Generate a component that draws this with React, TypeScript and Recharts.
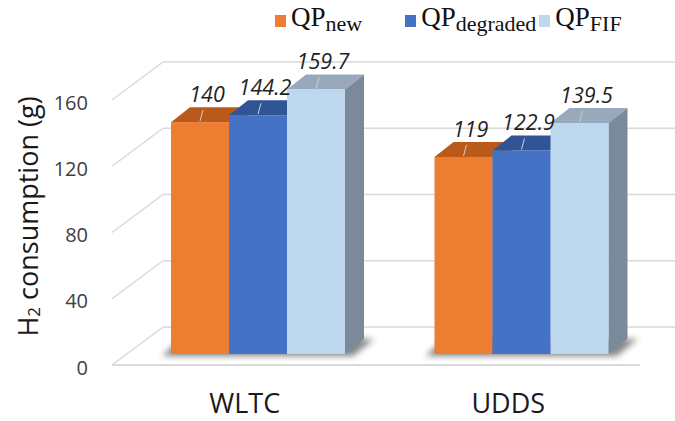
import React from 'react';
import { BarChart, Bar, XAxis, YAxis, ReferenceLine, Legend, LabelList } from 'recharts';

const categories = ['WLTC', 'UDDS'];
const qpNew = [140, 119];
const qpDegraded = [144.2, 122.9];
const qpFif = [159.7, 139.5];
const yTicks = [0, 40, 80, 120, 160];

const seriesKeys = ['qpNew', 'qpDegraded', 'qpFif'];
const seriesSubs = ['new', 'degraded', 'FIF'];
const frontColors = ['#ED7D31', '#4472C4', '#BDD7EE'];
const topColors = ['#B9591A', '#2F5597', '#97A9BB'];
const sideColors = ['#A04E17', '#2A4C86', '#7A8A9A'];
const legendGaps = [43, 3, 0];

const data = categories.map((name, i) => ({
  name,
  qpNew: qpNew[i],
  qpDegraded: qpDegraded[i],
  qpFif: qpFif[i],
}));

// depth of the boxes, and of the back wall / front floor edge
const DX = 19;
const DY = 15;
const WALL_DX = 36;
const WALL_DY = 27;
const FRONT_DX = 15;
const FRONT_DY = 11;

const SANS = '"Open Sans", sans-serif';
const SERIF = '"Liberation Serif", serif';

function renderBar3D(props: any, s: number) {
  const { x, y, width: w, height: h } = props;
  const b = y + h;
  const top = `${x},${y} ${x + w},${y} ${x + w + DX},${y - DY} ${x + DX},${y - DY}`;
  const side = `${x + w},${y} ${x + w + DX},${y - DY} ${x + w + DX},${b - DY} ${x + w},${b}`;
  // group shadow on the floor, drawn once under the first box
  const gw = w * 3;
  const shadow = `${x - 9},${b + 2} ${x + gw + 8},${b + 2} ${x + gw + DX + 10},${b - DY} ${x + DX - 9},${b - DY}`;
  return (
    <g>
      {s === 0 && (
        <g>
          <defs>
            <filter id="floorShadow" x="-20%" y="-100%" width="140%" height="300%">
              <feGaussianBlur stdDeviation="3" />
            </filter>
          </defs>
          <polygon points={shadow} fill="#333" opacity={0.6} filter="url(#floorShadow)" />
        </g>
      )}
      <polygon points={top} fill={topColors[s]} />
      <polygon points={side} fill={sideColors[s]} />
      <rect x={x} y={y} width={w} height={h} fill={frontColors[s]} />
    </g>
  );
}

function renderValueLabel(props: any) {
  const { x, y, width, value } = props;
  const cx = x + width / 2;
  return (
    <g>
      <line x1={cx} y1={y - 1} x2={cx + 3} y2={y - 12} stroke="#d0d0d0" strokeWidth={1} />
      <text
        x={cx + 7}
        y={y - 20}
        textAnchor="middle"
        fontFamily={SANS}
        fontStyle="italic"
        fontSize={21.5}
        fill="#1f1f1f"
      >
        {value}
      </text>
    </g>
  );
}

function renderGridLine(props: any, v: number) {
  const { x1, y1, x2 } = props;
  return (
    <g>
      <line x1={x1 + WALL_DX} y1={y1 - WALL_DY} x2={x2 + 40} y2={y1 - WALL_DY} stroke="#D9D9D9" strokeWidth={1.5} />
      <line x1={x1 - FRONT_DX} y1={y1 + FRONT_DY} x2={x1 + WALL_DX} y2={y1 - WALL_DY} stroke="#D9D9D9" strokeWidth={1.5} />
      {v === 0 && (
        <line x1={x1 - FRONT_DX} y1={y1 + FRONT_DY} x2={x2 - 14} y2={y1 + FRONT_DY} stroke="#D9D9D9" strokeWidth={2} />
      )}
    </g>
  );
}

function renderYTick(props: any) {
  const { x, y, payload } = props;
  return (
    <text x={x - 31} y={y + 13} textAnchor="end" dominantBaseline="central" fontFamily={SANS} fontSize={20} fill="#404040">
      {payload.value}
    </text>
  );
}

function renderXTick(props: any) {
  const { x, y, payload } = props;
  return (
    <text x={x - 14} y={y + 51} textAnchor="middle" fontFamily={SANS} fontSize={27} fill="#1a1a1a">
      {payload.value}
    </text>
  );
}

function renderYTitle(props: any) {
  const vb = props.viewBox || { x: 67, y: 89, width: 60, height: 265 };
  const x = vb.x - 40;
  const y = vb.y + vb.height / 2 - 5;
  return (
    <text
      x={x}
      y={y}
      transform={`rotate(-90, ${x}, ${y})`}
      textAnchor="middle"
      dominantBaseline="central"
      fontFamily={SANS}
      fontSize={27}
      fill="#1a1a1a"
    >
      H<tspan dy={6} fontSize={17}>2</tspan>
      <tspan dy={-6}> consumption (g)</tspan>
    </text>
  );
}

function renderLegend(props: any) {
  // keep the series order (the default legend sorts by name)
  const items = [...(props.payload || [])].sort(
    (a: any, b: any) => seriesSubs.indexOf(a.value) - seriesSubs.indexOf(b.value)
  );
  return (
    <div style={styles.legend}>
      {items.map((entry: any, i: number) => (
        <div key={entry.value} style={{ ...styles.legendItem, marginRight: legendGaps[i] }}>
          <span style={{ ...styles.legendSwatch, backgroundColor: entry.color }} />
          <span style={styles.legendMain}>
            QP<span style={styles.legendSub}>{entry.value}</span>
          </span>
        </div>
      ))}
    </div>
  );
}

export default function App() {
  return (
    <div style={styles.page}>
      <BarChart
        width={675}
        height={421}
        data={data}
        margin={{ top: 89, right: 21, left: 67, bottom: 37 }}
        barCategoryGap="16.7%"
        barGap={0}
      >
        {yTicks.map((v) => (
          <ReferenceLine key={v} y={v} zIndex={-50} shape={(p: any) => renderGridLine(p, v)} />
        ))}
        <XAxis dataKey="name" axisLine={false} tickLine={false} height={30} tick={renderXTick} />
        <YAxis
          domain={[0, 160]}
          ticks={yTicks}
          axisLine={false}
          tickLine={false}
          width={60}
          tick={renderYTick}
          label={(p: any) => renderYTitle(p)}
        />
        <Legend
          layout="horizontal"
          verticalAlign="middle"
          align="center"
          content={renderLegend}
          wrapperStyle={{ top: 4, left: 275, width: 'auto', height: 'auto' }}
        />
        {seriesKeys.map((key, s) => (
          <Bar
            key={key}
            dataKey={key}
            name={seriesSubs[s]}
            fill={frontColors[s]}
            isAnimationActive={false}
            shape={(p: any) => renderBar3D(p, s)}
          >
            <LabelList dataKey={key} content={renderValueLabel} />
          </Bar>
        ))}
      </BarChart>
    </div>
  );
}

const styles: Record<string, React.CSSProperties> = {
  page: {
    position: 'absolute',
    left: 0,
    top: 0,
    backgroundColor: '#ffffff',
  },

  legend: {
    display: 'flex',
    alignItems: 'flex-start',
    fontFamily: SERIF,
    color: '#111',
    whiteSpace: 'nowrap',
  },

  legendItem: {
    display: 'flex',
    alignItems: 'flex-start',
  },

  legendSwatch: {
    display: 'inline-block',
    width: 11,
    height: 12,
    marginTop: 11,
    marginRight: 5,
  },

  legendMain: {
    fontSize: '27px',
    lineHeight: '27px',
  },

  legendSub: {
    fontSize: '22px',
    position: 'relative',
    top: 5,
  },
};
